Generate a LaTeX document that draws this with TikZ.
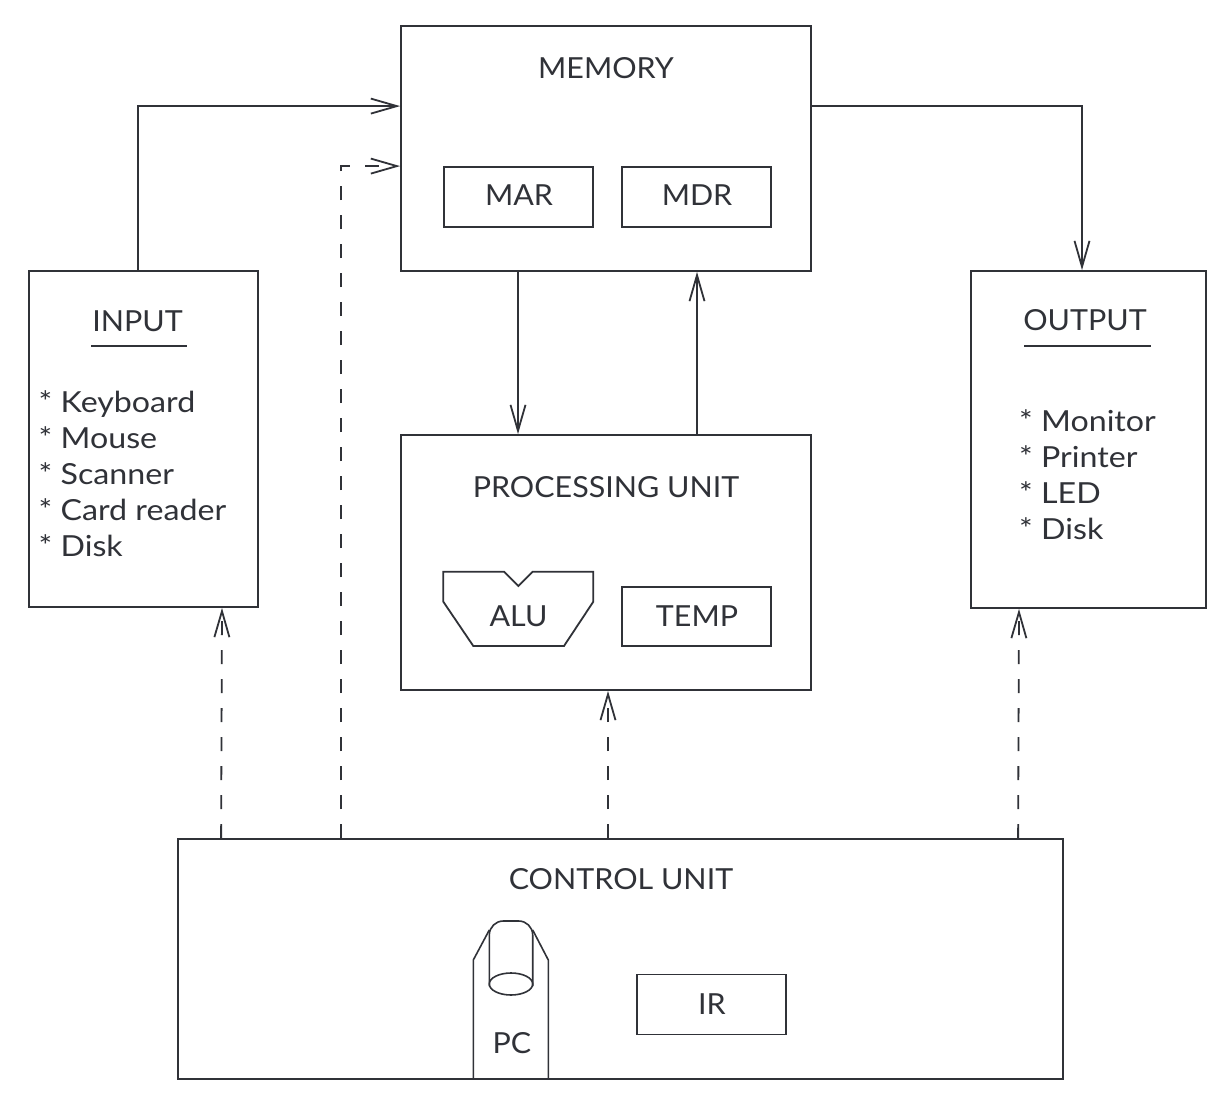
\documentclass[tikz,border=0pt]{standalone}
\usepackage{fontspec}
\setmainfont{Lato}[FakeStretch=1.05]
\newfontfamily\itemfont{Lato}[FakeStretch=1.11]
\usetikzlibrary{arrows.meta}
\definecolor{ink}{HTML}{303238}
\begin{document}
\begin{tikzpicture}[x=1pt,y=-1pt,
  every node/.style={text=ink},
  box/.style={draw=ink, line width=1.8pt, rectangle, inner sep=0pt},
  lbl/.style={font=\fontsize{29}{35}\selectfont, anchor=base, inner sep=0pt},
  item/.style={font=\itemfont\fontsize{29}{35}\selectfont, anchor=base west, inner sep=0pt},
  ln/.style={draw=ink, line width=1.8pt},
  arr/.style={draw=ink, line width=1.8pt, -{Straight Barb[length=26pt,width=15pt,line width=1.8pt]}},
  dsh/.style={dash pattern=on 14pt off 15pt}]
\useasboundingbox (0,0) rectangle (1227,1097);
\fill[white] (0,0) rectangle (1227,1097);

% main boxes
\node[box, minimum width=410pt, minimum height=245pt] (mem) at (606,148.5) {};
\node[box, minimum width=410pt, minimum height=255pt] (pu) at (606,562.5) {};
\node[box, minimum width=229pt, minimum height=336pt] (inp) at (143.5,439) {};
\node[box, minimum width=235pt, minimum height=337pt] (out) at (1088.5,439.5) {};
\node[box, minimum width=885pt, minimum height=240pt] (cu) at (620.5,959) {};

% inner boxes
\node[box, minimum width=149pt, minimum height=60pt] (mar) at (518.5,197) {};
\node[box, minimum width=149pt, minimum height=60pt] (mdr) at (696.5,197) {};
\node[box, minimum width=149pt, minimum height=59pt] (temp) at (696.5,616.5) {};
\node[box, minimum width=149pt, minimum height=60pt] (ir) at (711.5,1004.5) {};

% titles
\node[lbl] (memt) at (606,78.3) {MEMORY};
\node[lbl] (mart) at (519,205.7) {MAR};
\node[lbl] (mdrt) at (697,205.7) {MDR};
\node[lbl] (put) at (606,497.3) {PROCESSING UNIT};
\node[lbl] (alut) at (518.5,626.5) {ALU};
\node[lbl] (tempt) at (697,626.5) {TEMP};
\node[lbl] (cut) at (621,889) {CONTROL UNIT};
\node[lbl] (irt) at (712,1014.3) {IR};
\node[lbl] (pct) at (512,1053) {PC};
\node[lbl] (inpt) at (137.5,331.7) {INPUT};
\node[lbl] (outt) at (1085,330.7) {OUTPUT};
\draw[ln] (91,346) -- (187,346);
\draw[ln] (1024,346) -- (1151,346);

% lists
\foreach \t [count=\i from 0] in {Keyboard,Mouse,Scanner,Card reader,Disk}
  \node[item] (in\i) at (38.5,412.7+36*\i) {* \t};
\foreach \t [count=\i from 0] in {Monitor,Printer,LED,Disk}
  \node[item] (ou\i) at (1019,431.7+36*\i) {* \t};

% ALU shape
\draw[ln, line join=miter] (443.3,571.7) -- (504,571.7) -- (518.3,586) -- (532.7,571.7) -- (593.3,571.7)
  -- (593.3,601.7) -- (564,646) -- (473.3,646) -- (443.3,601.7) -- cycle;

% PC shape
\draw[ln, line width=1.6pt] (473.3,1079) -- (473.3,960) -- (489.3,930);
\draw[ln, line width=1.6pt] (548.3,1079) -- (548.3,960) -- (532.7,930);
\draw[ln, line width=1.6pt, rounded corners=14pt] (489.3,986) -- (489.3,921) -- (532.7,921) -- (532.7,986);
\draw[ln, line width=1.6pt] (511,984) ellipse [x radius=21.7pt, y radius=11pt];

% connectors
\draw[arr] ([xshift=-5.5pt]inp.north) |- ([yshift=-81pt]mem.north west);
\draw[arr, dsh] ([xshift=164pt]cu.north west) |- ([yshift=-141pt]mem.north west);
\draw[arr] ([yshift=-81pt]mem.north east) -| ([xshift=-6.5pt]out.north);
\draw[arr] ([xshift=-88pt]mem.south) -- ([xshift=-88pt]pu.north);
\draw[arr] ([xshift=91pt]pu.north) -- ([xshift=91pt]mem.south);
\draw[arr, dsh] ([xshift=44pt]cu.north west) -- ([xshift=78.5pt]inp.south);
\draw[arr, dsh] ([xshift=-12.5pt]cu.north) -- ([xshift=2pt]pu.south);
\draw[arr, dsh] ([xshift=841pt]cu.north west) -- ([xshift=-69.5pt]out.south);
\end{tikzpicture}
\end{document}
